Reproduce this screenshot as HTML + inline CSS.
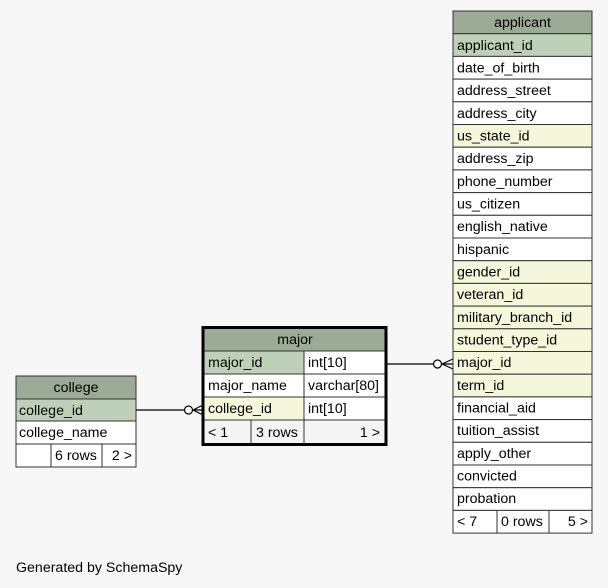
<!DOCTYPE html>
<html><head><meta charset="utf-8"><style>
html,body{margin:0;padding:0;background:#f7f7f7;}
svg{display:block;font-family:"Liberation Sans",Arial,sans-serif;font-size:14.2px;}
</style></head><body>
<svg width="608" height="588" viewBox="0 0 608 588" xmlns="http://www.w3.org/2000/svg">
<rect width="608" height="588" fill="#f7f7f7"/>
<g stroke="#000" stroke-width="1.2" fill="none">
<line x1="136" y1="410" x2="184" y2="410"/>
<circle cx="188.5" cy="410" r="4" fill="#fff"/>
<path d="M193 410 L203 405 M193 410 L203 415 M193 410 L203 410"/>
<line x1="386" y1="364" x2="433" y2="364"/>
<circle cx="437.5" cy="364" r="4" fill="#fff"/>
<path d="M442 364 L453 359 M442 364 L453 369 M442 364 L453 364"/>
</g>
<g stroke="#333" stroke-width="1">
<rect x="16" y="376" width="120" height="23" fill="#9bab96"/>
<rect x="16" y="399" width="120" height="22" fill="#bed1b8"/>
<rect x="16" y="421" width="120" height="23" fill="#fff"/>
<rect x="16" y="444" width="120" height="23" fill="#fff"/>
<line x1="51" y1="444" x2="51" y2="467"/><line x1="102" y1="444" x2="102" y2="467"/>
</g>
<g fill="#000">
<text x="76" y="392" text-anchor="middle">college</text>
<text x="19" y="415">college_id</text>
<text x="19" y="437">college_name</text>
<text x="55" y="460">6 rows</text>
<text x="132" y="460" text-anchor="end">2 &gt;</text>
</g>
<g stroke="#333" stroke-width="1">
<rect x="204" y="328" width="181" height="23" fill="#9bab96"/>
<rect x="204" y="351" width="100" height="23" fill="#bed1b8"/>
<rect x="304" y="351" width="81" height="23" fill="#fff"/>
<rect x="204" y="374" width="100" height="23" fill="#fff"/>
<rect x="304" y="374" width="81" height="23" fill="#fff"/>
<rect x="204" y="397" width="100" height="23" fill="#f4f7da"/>
<rect x="304" y="397" width="81" height="23" fill="#fff"/>
<rect x="204" y="420" width="181" height="24" fill="#f4f4f4"/>
<line x1="251" y1="420" x2="251" y2="444"/><line x1="304" y1="420" x2="304" y2="444"/>
</g>
<rect x="203" y="327.5" width="183" height="117" fill="none" stroke="#000" stroke-width="3"/>
<g fill="#000">
<text x="295" y="344" text-anchor="middle">major</text>
<text x="208" y="367">major_id</text><text x="308" y="367">int[10]</text>
<text x="208" y="390">major_name</text><text x="308" y="390">varchar[80]</text>
<text x="208" y="413">college_id</text><text x="308" y="413">int[10]</text>
<text x="208" y="437">&lt; 1</text><text x="256" y="437">3 rows</text>
<text x="380" y="437" text-anchor="end">1 &gt;</text>
</g>
<g stroke="#333" stroke-width="1">
<rect x="453" y="11" width="139" height="22.7" fill="#9bab96"/>
<rect x="453" y="33.7" width="139" height="22.7" fill="#bed1b8"/>
<rect x="453" y="56.4" width="139" height="22.7" fill="#fff"/>
<rect x="453" y="79.1" width="139" height="22.7" fill="#fff"/>
<rect x="453" y="101.8" width="139" height="22.7" fill="#fff"/>
<rect x="453" y="124.5" width="139" height="22.7" fill="#f4f7da"/>
<rect x="453" y="147.2" width="139" height="22.7" fill="#fff"/>
<rect x="453" y="169.9" width="139" height="22.7" fill="#fff"/>
<rect x="453" y="192.6" width="139" height="22.7" fill="#fff"/>
<rect x="453" y="215.3" width="139" height="22.7" fill="#fff"/>
<rect x="453" y="238" width="139" height="22.7" fill="#fff"/>
<rect x="453" y="260.7" width="139" height="22.7" fill="#f4f7da"/>
<rect x="453" y="283.4" width="139" height="22.7" fill="#f4f7da"/>
<rect x="453" y="306.1" width="139" height="22.7" fill="#f4f7da"/>
<rect x="453" y="328.8" width="139" height="22.7" fill="#f4f7da"/>
<rect x="453" y="351.5" width="139" height="22.7" fill="#f4f7da"/>
<rect x="453" y="374.2" width="139" height="22.7" fill="#f4f7da"/>
<rect x="453" y="396.9" width="139" height="22.7" fill="#fff"/>
<rect x="453" y="419.6" width="139" height="22.7" fill="#fff"/>
<rect x="453" y="442.3" width="139" height="22.7" fill="#fff"/>
<rect x="453" y="465" width="139" height="22.7" fill="#fff"/>
<rect x="453" y="487.7" width="139" height="22.7" fill="#fff"/>
<rect x="453" y="510.4" width="139" height="22.7" fill="#fff"/>
<line x1="497" y1="510.4" x2="497" y2="533"/><line x1="549" y1="510.4" x2="549" y2="533"/>
</g>
<g fill="#000">
<text x="522.5" y="27" text-anchor="middle">applicant</text>
<text x="457" y="50">applicant_id</text>
<text x="457" y="72.5">date_of_birth</text>
<text x="457" y="95">address_street</text>
<text x="457" y="118">address_city</text>
<text x="457" y="140.5">us_state_id</text>
<text x="457" y="163">address_zip</text>
<text x="457" y="186">phone_number</text>
<text x="457" y="208.5">us_citizen</text>
<text x="457" y="231">english_native</text>
<text x="457" y="254">hispanic</text>
<text x="457" y="276.5">gender_id</text>
<text x="457" y="299">veteran_id</text>
<text x="457" y="322">military_branch_id</text>
<text x="457" y="344.5">student_type_id</text>
<text x="457" y="367">major_id</text>
<text x="457" y="390">term_id</text>
<text x="457" y="412.5">financial_aid</text>
<text x="457" y="435">tuition_assist</text>
<text x="457" y="458">apply_other</text>
<text x="457" y="480.5">convicted</text>
<text x="457" y="503">probation</text>
<text x="457" y="526">&lt; 7</text>
<text x="501" y="526">0 rows</text>
<text x="588" y="526" text-anchor="end">5 &gt;</text>
</g>
<text x="16" y="572" fill="#000">Generated by SchemaSpy</text>
</svg>
</body></html>
